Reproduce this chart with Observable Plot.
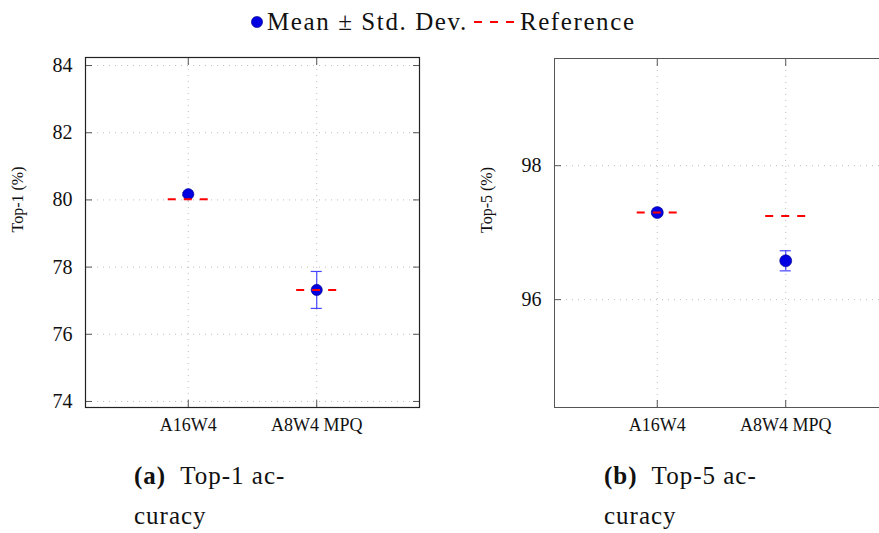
<!DOCTYPE html>
<html>
<head>
<meta charset="utf-8">
<script src="https://cdn.jsdelivr.net/npm/d3@7"></script>
<script src="https://cdn.jsdelivr.net/npm/@observablehq/plot@0.6"></script>
<style>
  html, body { margin: 0; padding: 0; background: #fff; }
  body { width: 879px; height: 533px; overflow: hidden; position: relative; font-family: "Liberation Serif", serif; color: #111; }
  .abs { position: absolute; }
  #left, #right { width: 440px; }
  #left svg, #right svg { max-width: none !important; }
  svg text { font-family: "Liberation Serif", serif !important; }
  #legend { top: 4px; left: 250px; font-size: 25px; letter-spacing: 1.6px; white-space: nowrap; display: flex; align-items: center; height: 36px; }
  #legend svg { display: inline-block; }
  .cap { font-size: 25px; line-height: 40px; letter-spacing: 1px; }
</style>
</head>
<body>
<div id="legend" class="abs"></div>
<div id="left" class="abs" style="left:0;top:0"></div>
<div id="right" class="abs" style="left:470px;top:0"></div>
<div class="abs cap" style="left:134px;top:456px"><b>(a)</b>&nbsp; Top-1 ac-<br>curacy</div>
<div class="abs cap" style="left:604px;top:456px"><b>(b)</b>&nbsp; Top-5 ac-<br>curacy</div>
<script>
const categories = ["A16W4", "A8W4 MPQ"];
const top1Mean = [80.17, 77.32];
const top1Std = [0.04, 0.55];
const top1Ref = [80.02, 77.32];
const top5Mean = [97.30, 96.58];
const top5Std = [0.02, 0.15];
const top5Ref = [97.30, 97.25];
const top1Ticks = [74, 76, 78, 80, 82, 84];
const top5Ticks = [96, 98];
const legendLabels = ["Mean ± Std. Dev.", "Reference"];

const BLUE = "#0000e0", EBAR = "#4646ff", RED = "#ff0000";
const FONT = "Liberation Serif, serif";

function panel({mean, std, ref, ticks, yDomain, label, marginLeft, marginTop, width, height, right}) {
  const rows = categories.map((c, i) => ({i, c, mean: mean[i], std: std[i], ref: ref[i]}));
  const capHalf = 0.043, refHalf = 0.156;
  const grid = {stroke: "#bdbdbd", strokeOpacity: 1, strokeDasharray: "1,5"};
  const tickStyle = {stroke: "#555", tickSize: 7, tickFormat: () => "", label: null};
  return Plot.plot({
    width, height,
    marginLeft, marginTop,
    marginRight: width - marginLeft - 334,
    marginBottom: height - 407,
    style: {fontFamily: FONT, background: "transparent", overflow: "visible", color: "#111", maxWidth: "none"},
    x: {domain: [-0.8, 1.8]},
    y: {domain: yDomain},
    marks: [
      Plot.gridY(ticks, grid),
      Plot.gridX([0, 1], grid),
      Plot.axisY(ticks, {anchor: "left", ...tickStyle, dx: 7}),
      Plot.axisY(ticks, {anchor: "right", ...tickStyle, dx: -7}),
      Plot.axisX([0, 1], {anchor: "bottom", ...tickStyle, dy: -7}),
      Plot.axisX([0, 1], {anchor: "top", ...tickStyle, dy: 7}),
      Plot.axisY(ticks, {anchor: "left", tickSize: 0, tickPadding: 13, fontSize: 20, fontFamily: FONT, tickFormat: d => String(d), label: null}),
      Plot.axisX([0, 1], {anchor: "bottom", tickSize: 0, tickPadding: 11, fontSize: 18, fontFamily: FONT, tickFormat: i => categories[i], label: null}),
      Plot.text([label], {frameAnchor: "left", text: d => d, rotate: -90, dx: -68, fontSize: 16, fontFamily: FONT}),
      Plot.frame({stroke: right ? "#555" : "#222", strokeWidth: right ? 1 : 1.2}),
      Plot.ruleX(rows, {x: "i", y1: d => d.mean - d.std, y2: d => d.mean + d.std, stroke: EBAR, strokeWidth: 1.2}),
      Plot.ruleY(rows, {y: d => d.mean + d.std, x1: d => d.i - capHalf, x2: d => d.i + capHalf, stroke: EBAR, strokeWidth: 1.2}),
      Plot.ruleY(rows, {y: d => d.mean - d.std, x1: d => d.i - capHalf, x2: d => d.i + capHalf, stroke: EBAR, strokeWidth: 1.2}),
      Plot.dot(rows, {x: "i", y: "mean", r: right ? 6 : 5.6, fill: BLUE, stroke: "#00008a", strokeWidth: 0.6}),
      Plot.ruleY(rows, {y: "ref", x1: d => d.i - refHalf, x2: d => d.i + refHalf, stroke: RED, strokeWidth: 2, strokeDasharray: "8,8"})
    ]
  });
}

document.getElementById("left").append(panel({
  mean: top1Mean, std: top1Std, ref: top1Ref, ticks: top1Ticks,
  yDomain: [73.82, 84.24], label: "Top-1 (%)",
  marginLeft: 85, marginTop: 57, width: 440, height: 445, right: false
}));
document.getElementById("right").append(panel({
  mean: top5Mean, std: top5Std, ref: top5Ref, ticks: top5Ticks,
  yDomain: [94.39, 99.6], label: "Top-5 (%)",
  marginLeft: 84, marginTop: 58, width: 440, height: 445, right: true
}));

// legend
const lg = document.getElementById("legend");
lg.innerHTML =
  `<svg width="14" height="14" style="margin-right:3px"><circle cx="7" cy="7" r="5.6" fill="${BLUE}" stroke="#00008a" stroke-width="0.6"/></svg>` +
  `<span>${legendLabels[0]}</span>` +
  `<svg width="42" height="14" style="margin:0 5px 0 5px"><line x1="1" y1="7" x2="41" y2="7" stroke="${RED}" stroke-width="2" stroke-dasharray="8,8"/></svg>` +
  `<span>${legendLabels[1]}</span>`;
</script>
</body>
</html>
